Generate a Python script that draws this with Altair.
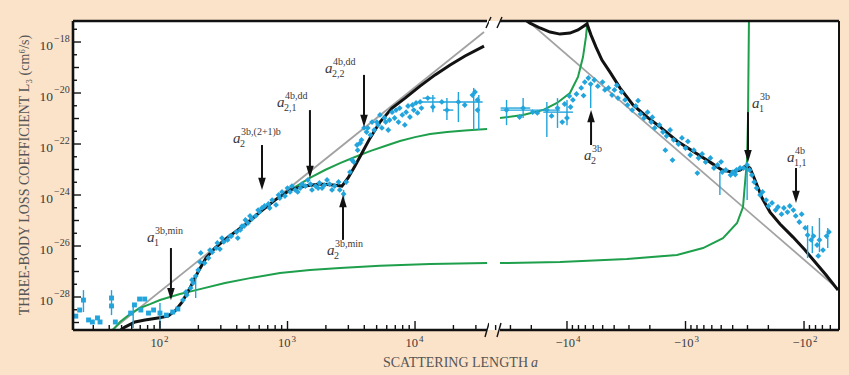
import altair as alt
import numpy as np
import pandas as pd

# ================= values (log10 units) =================
# ---- positive scattering length (left part): log10 a , log10 L3 [cm^6/s]
pos_sq_loga = [1.34, 1.37, 1.40, 1.44, 1.47, 1.51, 1.53, 1.62, 1.62, 1.65, 1.77, 1.80,
               1.84, 1.88, 1.85, 1.91, 1.95, 2.00, 2.05, 2.10, 2.14]
pos_sq_logL = [-28.75, -28.51, -28.12, -28.90, -28.98, -28.82, -28.98, -28.04, -28.35, -28.98,
               -28.63, -28.31, -28.08, -28.08, -28.51, -28.63, -28.51, -28.63, -28.71, -28.59, -28.47]

pos_dm_loga = [2.18, 2.21, 2.24, 2.26, 2.28, 2.30, 2.32, 2.35, 2.38, 2.41, 2.44, 2.47, 2.50, 2.53,
               2.56, 2.60, 2.63, 2.66, 2.69, 2.72, 2.75, 2.78, 2.82, 2.85, 2.88, 2.91, 2.94, 2.98,
               3.02, 3.06, 3.10, 3.14, 3.18, 3.22, 3.25, 3.29, 3.33, 3.37, 3.41, 3.44, 3.46, 3.49,
               3.52, 3.55, 3.58, 3.62, 3.65, 3.68, 3.71, 3.74, 3.77, 3.80, 3.84, 3.87, 3.90, 3.93,
               3.96, 3.99, 4.02, 4.05, 4.10, 4.14, 4.21, 4.25, 4.34, 4.39, 4.45, 4.49, 4.49, 4.47,
               3.57, 3.63, 3.70, 3.76, 3.82, 3.88, 3.98, 4.04, 3.79, 3.92, 2.45, 2.61, 2.67, 2.77,
               2.86, 2.93, 3.00, 3.08, 3.16, 3.24, 3.31, 3.40,
               2.204, 2.251, 2.314, 2.392, 2.486, 2.549, 2.643, 2.706, 2.800, 2.957, 3.035, 3.114,
               3.192, 3.271, 3.349, 3.506, 3.545, 3.600, 3.663, 3.725, 3.851, 3.945, 4.008]
pos_dm_logL = [-28.12, -27.92, -27.65, -27.45, -27.18, -26.94, -26.27, -26.67, -26.47, -26.24,
               -26.08, -26.12, -25.84, -25.76, -25.61, -25.45, -25.37, -25.22, -25.10, -24.94,
               -24.82, -24.67, -24.43, -24.35, -24.20, -24.39, -24.12, -24.04, -23.88, -23.80,
               -23.73, -23.65, -23.57, -23.65, -23.53, -23.61, -23.57, -23.65, -23.80, -23.96,
               -23.49, -23.10, -22.71, -22.24, -21.84, -21.53, -21.65, -21.45, -21.25, -21.37,
               -21.14, -21.06, -20.98, -21.14, -20.86, -20.75, -20.94, -20.67, -20.78, -20.59,
               -20.20, -20.55, -20.35, -20.67, -20.35, -20.47, -20.08, -20.27, -20.67, -19.96,
               -21.96, -21.37, -21.14, -20.98, -20.75, -20.59, -20.47, -20.35, -21.45, -21.25,
               -25.88, -25.69, -24.98, -24.59, -24.51, -24.00, -23.73, -23.88, -23.41, -23.73,
               -23.41, -23.49,
               -27.80, -27.33, -26.63, -26.16, -25.69, -25.61, -25.22, -24.82, -24.51, -23.88,
               -23.65, -23.57, -23.80, -23.73, -23.80, -22.63, -22.04, -21.37, -21.14, -20.86,
               -20.67, -20.51, -20.39]

pos_ev_loga = [1.40, 1.62, 1.79, 2.00, 2.28, 3.44, 4.14, 4.25, 4.34, 4.46, 4.50]
pos_ev_lo = [-28.59, -28.71, -29.22, -29.22, -28.04, -24.20, -20.75, -21.06, -21.14, -21.45, -21.45]
pos_ev_hi = [-27.73, -27.73, -28.31, -28.24, -27.26, -23.80, -20.08, -20.20, -19.96, -19.80, -20.08]
pos_eh_logL = [-20.35, -20.20, -20.67]
pos_eh_lo = [4.04, 4.06, 4.22]
pos_eh_hi = [4.53, 4.16, 4.30]

pos_black_loga = [1.671, 1.725, 1.804, 1.882, 1.984, 2.063, 2.118, 2.173, 2.235, 2.298, 2.361,
                  2.431, 2.533, 2.667, 2.784, 2.902, 3.020, 3.137, 3.255, 3.357, 3.427, 3.475,
                  3.529, 3.584, 3.647, 3.725, 3.820, 3.922, 4.039, 4.157, 4.275, 4.392, 4.541]
pos_black_logL = [-29.37, -29.18, -28.98, -28.90, -28.82, -28.75, -28.55, -28.20, -27.65, -27.02,
                  -26.47, -26.08, -25.65, -25.18, -24.67, -24.20, -23.80, -23.65, -23.57, -23.61,
                  -23.65, -23.33, -22.86, -22.35, -21.77, -21.14, -20.59, -20.20, -19.73, -19.29,
                  -18.90, -18.55, -18.16]
pos_green1_loga = [1.624, 1.686, 1.765, 1.843, 1.922, 2.000, 2.157, 2.314, 2.510, 2.706, 2.941,
                   3.176, 3.412, 3.725, 4.118, 4.565]
pos_green1_logL = [-29.33, -28.98, -28.67, -28.43, -28.28, -28.12, -27.88, -27.69, -27.45, -27.26,
                   -27.06, -26.94, -26.86, -26.77, -26.71, -26.67]
pos_green2_loga = [3.020, 3.059, 3.176, 3.294, 3.412, 3.529, 3.647, 3.765, 3.882, 4.000, 4.118,
                   4.251, 4.392, 4.565]
pos_green2_logL = [-23.84, -23.69, -23.33, -23.02, -22.75, -22.51, -22.28, -22.08, -21.88, -21.73,
                   -21.61, -21.53, -21.47, -21.41]
pos_gray_loga = [1.624, 4.541]
pos_gray_logL = [-29.29, -17.61]

# ---- negative scattering length (right part): log10 |a| , log10 L3
neg_dm_loga = [4.51, 4.37, 4.29, 4.17, 4.13, 4.08, 4.02, 4.00, 3.98, 3.95, 3.92, 3.88, 3.85, 3.82,
               3.80, 3.77, 3.74, 3.70, 3.68, 3.65, 3.62, 3.60, 3.57, 3.54, 3.51, 3.49, 3.45, 3.42,
               3.38, 3.35, 3.32, 3.29, 3.26, 3.22, 3.19, 3.16, 3.13, 3.10, 3.06, 3.03, 3.00, 2.96,
               2.93, 2.89, 2.86, 2.83, 2.79, 2.76, 2.73, 2.69, 2.66, 2.62, 2.60, 2.57, 2.54, 2.51,
               2.48, 2.46, 2.44, 2.42, 2.40, 2.37, 2.35, 2.32, 2.30, 2.27, 2.24, 2.22, 2.19, 2.17,
               2.14, 2.12, 2.09, 2.07, 2.04, 2.02, 1.99, 1.97, 1.94, 1.92, 1.89, 1.87, 1.84, 1.81,
               1.79, 1.88, 4.25, 4.04, 4.40, 3.11, 2.90, 3.17, 3.97, 3.86, 3.58, 3.40, 3.28, 2.98,
               2.70, 2.58]
neg_dm_logL = [-20.67, -20.59, -20.75, -20.67, -20.90, -20.59, -20.43, -20.98, -20.12, -20.27,
               -20.04, -19.80, -19.57, -19.41, -19.65, -19.49, -19.73, -19.57, -19.88, -19.80,
               -20.08, -19.88, -20.20, -19.96, -20.27, -20.47, -20.67, -20.51, -20.82, -20.98,
               -20.75, -21.14, -21.37, -21.25, -21.53, -21.69, -21.45, -21.84, -22.00, -21.76,
               -22.16, -22.43, -22.24, -22.55, -22.39, -22.71, -22.55, -22.94, -22.82, -23.10,
               -23.02, -23.22, -23.10, -23.02, -22.94, -22.94, -22.82, -23.02, -23.22, -23.49,
               -23.73, -24.00, -23.88, -24.20, -24.43, -24.31, -24.59, -24.47, -24.75, -24.51,
               -24.67, -24.43, -24.59, -24.82, -25.06, -24.75, -25.29, -25.57, -25.76, -25.61,
               -25.96, -25.76, -26.16, -25.61, -25.45, -26.39, -20.78, -21.14, -20.94, -22.63,
               -23.14, -22.24, -20.55, -20.10, -19.70, -20.30, -20.95, -21.90, -22.70, -23.20]

neg_ev_loga = [4.51, 4.37, 4.17, 4.08, 4.00, 3.80, 2.71, 2.48, 1.97, 1.93, 1.87, 1.80]
neg_ev_lo = [-21.26, -20.98, -21.73, -21.37, -21.26, -20.59, -24.00, -24.20, -26.47, -26.28, -26.24, -26.08]
neg_ev_hi = [-20.27, -20.20, -20.35, -20.20, -20.27, -19.65, -23.10, -22.71, -25.18, -25.22, -24.90, -25.29]
neg_eh_logL = [-20.67, -20.59, -20.75]
neg_eh_lo = [4.06, 4.31, 3.95]
neg_eh_hi = [4.56, 4.56, 4.20]

neg_black_loga = [4.363, 4.312, 4.228, 4.143, 4.059, 3.975, 3.907, 3.857, 3.831, 3.797, 3.755,
                  3.705, 3.637, 3.553, 3.443, 3.325, 3.215, 3.072, 2.937, 2.793, 2.692, 2.608,
                  2.540, 2.489, 2.456, 2.414, 2.354, 2.287, 2.203, 2.093, 1.992, 1.907, 1.814, 1.713]
neg_black_logL = [-17.10, -17.26, -17.45, -17.61, -17.69, -17.65, -17.53, -17.37, -17.29, -17.73,
                  -18.20, -18.71, -19.18, -19.80, -20.47, -20.94, -21.33, -21.88, -22.28, -22.71,
                  -23.02, -23.10, -23.02, -22.86, -22.94, -23.41, -24.12, -24.67, -25.14, -25.65,
                  -26.16, -26.63, -27.14, -27.73]
neg_green1_loga = [4.565, 4.371, 4.203, 4.084, 3.975, 3.907, 3.865, 3.840, 3.827, 3.823]
neg_green1_logL = [-20.98, -20.86, -20.67, -20.39, -20.00, -19.37, -18.59, -17.80, -17.18, -16.75]
neg_green2_loga = [4.565, 4.059, 3.494, 3.072, 2.852, 2.684, 2.565, 2.515, 2.498, 2.481, 2.473,
                   2.468, 2.464]
neg_green2_logL = [-26.67, -26.63, -26.51, -26.35, -26.08, -25.69, -25.10, -24.47, -23.53, -22.63,
                   -21.06, -18.71, -16.75]
neg_gray_loga = [4.329, 1.713]
neg_gray_logL = [-17.18, -27.69]

# ---- annotations: label anchor (log10 |a|, log10 L3), superscript, subscript
pos_lab_loga = [1.898, 2.573, 2.918, 3.294, 3.310]
pos_lab_logL = [-25.84, -21.96, -20.55, -19.22, -26.35]
pos_lab_sup = ["3b,min", "3b,(2+1)b", "4b,dd", "4b,dd", "3b,min"]
pos_lab_sub = ["1", "2", "2,1", "2,2", "2"]
neg_lab_loga = [3.857, 2.439, 2.143]
neg_lab_logL = [-22.63, -20.59, -22.71]
neg_lab_sup = ["3b", "3b", "4b"]
neg_lab_sub = ["2", "1", "1,1"]

# arrows: x, tail, tip (log10 units)
pos_arr_down_loga = [2.086, 2.800, 3.176, 3.600]
pos_arr_down_from = [-26.08, -22.04, -20.67, -19.29]
pos_arr_down_tip = [-28.12, -23.80, -23.33, -21.33]
pos_arr_up_loga = [3.435]
pos_arr_up_from = [-25.76]
pos_arr_up_tip = [-24.00]
neg_arr_down_loga = [2.473, 2.068]
neg_arr_down_from = [-20.75, -22.94]
neg_arr_down_tip = [-22.71, -24.31]
neg_arr_up_loga = [3.797]
neg_arr_up_from = [-22.04]
neg_arr_up_tip = [-20.67]

# ticks
pos_major_ticks = [100, 1000, 10000]
pos_minor_ticks = [30, 40, 50, 60, 70, 80, 90, 200, 300, 400, 500, 600, 700, 800, 900,
                   2000, 3000, 4000, 5000, 6000, 7000, 8000, 9000, 20000, 30000]
neg_major_ticks = [100, 1000, 10000]
neg_minor_ticks = [60, 70, 80, 90, 200, 300, 400, 500, 600, 700, 800, 900,
                   2000, 3000, 4000, 5000, 6000, 7000, 8000, 9000, 20000, 30000, 40000]
x_tick_exp = ["2", "3", "4"]
y_major_exp = [-28, -26, -24, -22, -20, -18]
y_major_lab = ["\u221228", "\u221226", "\u221224", "\u221222", "\u221220", "\u221218"]
y_odd_exp = [-29, -27, -25, -23, -21, -19]
y_half_exp = [-28.5, -27.5, -26.5, -25.5, -24.5, -23.5, -22.5, -21.5, -20.5, -19.5, -18.5, -17.5]

# ================= styling =================
PEACH = "#FBE3CA"
BLUE = "#22A4DC"
GREEN = "#1E9F4B"
GRAY = "#A2A2A2"
BLACK = "#121212"
TXT = "#3A3A3A"
FONT = "Liberation Serif"
W1, W2, H = 416, 350, 309

xL = alt.Scale(type="log", domain=[10 ** 1.318, 10 ** 4.580], nice=False)
xR = alt.Scale(type="log", domain=[10 ** 1.705, 10 ** 4.658], nice=False, reverse=True)
yS = alt.Scale(type="log", domain=[10 ** -29.294, 10 ** -17.176], nice=False)
one = pd.DataFrame({"k": [0]})


def pts(lx, ly):
    return pd.DataFrame({"a": np.power(10.0, lx), "L": np.power(10.0, ly), "i": range(len(lx))})


def X(sc, f="a"):
    return alt.X(f"{f}:Q", scale=sc, axis=None)


def Y(f="L"):
    return alt.Y(f"{f}:Q", scale=yS, axis=None)


def line(lx, ly, sc, color, w):
    return alt.Chart(pts(lx, ly)).mark_line(color=color, strokeWidth=w, clip=True).encode(
        x=X(sc), y=Y(), order="i:Q")


def vbars(lx, lo, hi, sc):
    d = pd.DataFrame({"a": np.power(10.0, lx), "lo": np.power(10.0, lo), "hi": np.power(10.0, hi)})
    return alt.Chart(d).mark_rule(color=BLUE, strokeWidth=1.4).encode(
        x=X(sc), y=Y("lo"), y2="hi:Q")


def hbars(ly, lo, hi, sc):
    d = pd.DataFrame({"L": np.power(10.0, ly), "lo": np.power(10.0, lo), "hi": np.power(10.0, hi)})
    return alt.Chart(d).mark_rule(color=BLUE, strokeWidth=1.4).encode(
        y=Y(), x=X(sc, "lo"), x2="hi:Q")


def seg(x1, y1, x2, y2, w=2.5):
    return alt.Chart(one).mark_rule(color=BLACK, strokeWidth=w).encode(
        x=alt.value(x1), y=alt.value(y1), x2=alt.value(x2), y2=alt.value(y2))


def xticks(vals, sc, length, w=1.4):
    d = pd.DataFrame({"a": vals})
    return alt.Chart(d).mark_rule(color=BLACK, strokeWidth=w).encode(
        x=X(sc), y=alt.value(H), y2=alt.value(H - length))


def arrows(lx, lfrom, ltip, sc, down):
    d = pd.DataFrame({"a": np.power(10.0, lx), "L": np.power(10.0, lfrom), "T": np.power(10.0, ltip)})
    off = -6 if down else 6
    shape = "M-0.62,-1L0.62,-1L0,1Z" if down else "M-0.62,1L0.62,1L0,-1Z"
    shaft = alt.Chart(d).mark_rule(color=BLACK, strokeWidth=2, y2Offset=off).encode(
        x=X(sc), y=Y(), y2="T:Q")
    head = alt.Chart(d).mark_point(shape=shape, filled=True, size=150, color=BLACK, opacity=1,
                                   yOffset=off).encode(x=X(sc), y=Y("T"))
    return [shaft, head]


def labels(lx, ly, sup, sub, sc):
    d = pd.DataFrame({"a": np.power(10.0, lx), "L": np.power(10.0, ly), "sup": sup, "sub": sub})
    base = alt.Chart(d)
    return [
        base.mark_text(font=FONT, fontSize=15, fontStyle="italic", color=TXT, align="left",
                       baseline="alphabetic").encode(x=X(sc), y=Y(), text=alt.value("a")),
        base.mark_text(font=FONT, fontSize=10, color=TXT, align="left", baseline="alphabetic",
                       dx=8, dy=-8).encode(x=X(sc), y=Y(), text="sup:N"),
        base.mark_text(font=FONT, fontSize=10, color=TXT, align="left", baseline="alphabetic",
                       dx=7, dy=4).encode(x=X(sc), y=Y(), text="sub:N"),
    ]


def xlabels(vals, sc, neg):
    d = pd.DataFrame({"a": vals, "e": x_tick_exp})
    base = alt.Chart(d)
    return [
        base.mark_text(font=FONT, fontSize=12.5, color=TXT, align="right", baseline="middle",
                       dx=8 if neg else 3).encode(
            x=X(sc), y=alt.value(H + 13), text=alt.value("\u221210" if neg else "10")),
        base.mark_text(font=FONT, fontSize=9, color=TXT, align="left", baseline="middle",
                       dx=9 if neg else 4).encode(x=X(sc), y=alt.value(H + 9), text="e:N"),
    ]


# ---------------- left panel (a > 0) ----------------
ylab = pd.DataFrame({"L": np.power(10.0, y_major_exp), "e": y_major_lab})
left_layers = [
    alt.Chart(one).mark_rect(color=PEACH).encode(
        x=alt.value(-73), x2=alt.value(776), y=alt.value(-21), y2=alt.value(354)),
    alt.Chart(one).mark_rect(color="white").encode(
        x=alt.value(0), x2=alt.value(W1), y=alt.value(0), y2=alt.value(H)),
    line(pos_gray_loga, pos_gray_logL, xL, GRAY, 1.8),
    line(pos_green1_loga, pos_green1_logL, xL, GREEN, 2),
    line(pos_green2_loga, pos_green2_logL, xL, GREEN, 2),
    line(pos_black_loga, pos_black_logL, xL, BLACK, 3),
    vbars(pos_ev_loga, pos_ev_lo, pos_ev_hi, xL),
    hbars(pos_eh_logL, pos_eh_lo, pos_eh_hi, xL),
    alt.Chart(pts(pos_sq_loga, pos_sq_logL)).mark_point(
        shape="square", filled=True, size=24, color=BLUE, opacity=1).encode(x=X(xL), y=Y()),
    alt.Chart(pts(pos_dm_loga, pos_dm_logL)).mark_point(
        shape="diamond", filled=True, size=34, color=BLUE, opacity=1).encode(x=X(xL), y=Y()),
    xticks(pos_major_ticks, xL, 9),
    xticks(pos_minor_ticks, xL, 5),
    alt.Chart(pd.DataFrame({"L": np.power(10.0, y_major_exp)})).mark_rule(
        color=BLACK, strokeWidth=1.4).encode(y=Y(), x=alt.value(0), x2=alt.value(8)),
    alt.Chart(pd.DataFrame({"L": np.power(10.0, y_odd_exp)})).mark_rule(
        color=BLACK, strokeWidth=1.4).encode(y=Y(), x=alt.value(0), x2=alt.value(6)),
    alt.Chart(pd.DataFrame({"L": np.power(10.0, y_half_exp)})).mark_rule(
        color=BLACK, strokeWidth=1.4).encode(y=Y(), x=alt.value(0), x2=alt.value(4)),
    seg(0, 0, 0, H, 2.6),
    seg(0, 0, 414, 0),
    seg(0, H, 414, H),
    seg(413, 7, 418, -4, 1.4),
    seg(412, H + 7, 416, H - 7, 1.4),
    alt.Chart(ylab).mark_text(font=FONT, fontSize=13.5, color=TXT, align="right",
                              baseline="middle", dy=4).encode(
        y=Y(), x=alt.value(-20), text=alt.value("10")),
    alt.Chart(ylab).mark_text(font=FONT, fontSize=10, color=TXT, align="left",
                              baseline="middle", dy=-3).encode(
        y=Y(), x=alt.value(-19), text="e:N"),
    *xlabels(pos_major_ticks, xL, False),
    alt.Chart(one).mark_text(font=FONT, fontSize=14, color="#555555", angle=270,
                             align="center", baseline="middle").encode(
        x=alt.value(-48), y=alt.value(154),
        text=alt.value("THREE-BODY LOSS COEFFICIENT L\u2083 (cm\u2076/s)")),
    alt.Chart(one).mark_text(font=FONT, fontSize=14, color="#555555", align="right",
                             baseline="middle").encode(
        x=alt.value(455), y=alt.value(342), text=alt.value("SCATTERING LENGTH")),
    alt.Chart(one).mark_text(font=FONT, fontSize=14, fontStyle="italic", color="#555555",
                             align="left", baseline="middle").encode(
        x=alt.value(458), y=alt.value(342), text=alt.value("a")),
    *labels(pos_lab_loga, pos_lab_logL, pos_lab_sup, pos_lab_sub, xL),
    *arrows(pos_arr_down_loga, pos_arr_down_from, pos_arr_down_tip, xL, True),
    *arrows(pos_arr_up_loga, pos_arr_up_from, pos_arr_up_tip, xL, False),
]
left = alt.layer(*left_layers).properties(width=W1, height=H)

# ---------------- right panel (a < 0) ----------------
right_layers = [
    line(neg_gray_loga, neg_gray_logL, xR, GRAY, 1.8),
    line(neg_green1_loga, neg_green1_logL, xR, GREEN, 2),
    line(neg_green2_loga, neg_green2_logL, xR, GREEN, 2),
    line(neg_black_loga, neg_black_logL, xR, BLACK, 3),
    vbars(neg_ev_loga, neg_ev_lo, neg_ev_hi, xR),
    hbars(neg_eh_logL, neg_eh_lo, neg_eh_hi, xR),
    alt.Chart(pts(neg_dm_loga, neg_dm_logL)).mark_point(
        shape="diamond", filled=True, size=34, color=BLUE, opacity=1).encode(x=X(xR), y=Y()),
    xticks(neg_major_ticks, xR, 9),
    xticks(neg_minor_ticks, xR, 5),
    seg(11, 0, 350, 0),
    seg(11, H, 350, H),
    seg(350, 0, 350, H, 2),
    seg(8, 7, 13, -4, 1.4),
    seg(8, H + 7, 12, H - 7, 1.4),
    *xlabels(neg_major_ticks, xR, True),
    *labels(neg_lab_loga, neg_lab_logL, neg_lab_sup, neg_lab_sub, xR),
    *arrows(neg_arr_down_loga, neg_arr_down_from, neg_arr_down_tip, xR, True),
    *arrows(neg_arr_up_loga, neg_arr_up_from, neg_arr_up_tip, xR, False),
]
right = alt.layer(*right_layers).properties(width=W2, height=H)

chart = alt.hconcat(left, right, spacing=0, bounds="flush").properties(
    padding=0, background=PEACH, autosize=alt.AutoSizeParams(type="pad")
).configure_view(stroke=None, fill="white")

chart.save("out.html", embed_options={"renderer": "svg", "actions": False})
